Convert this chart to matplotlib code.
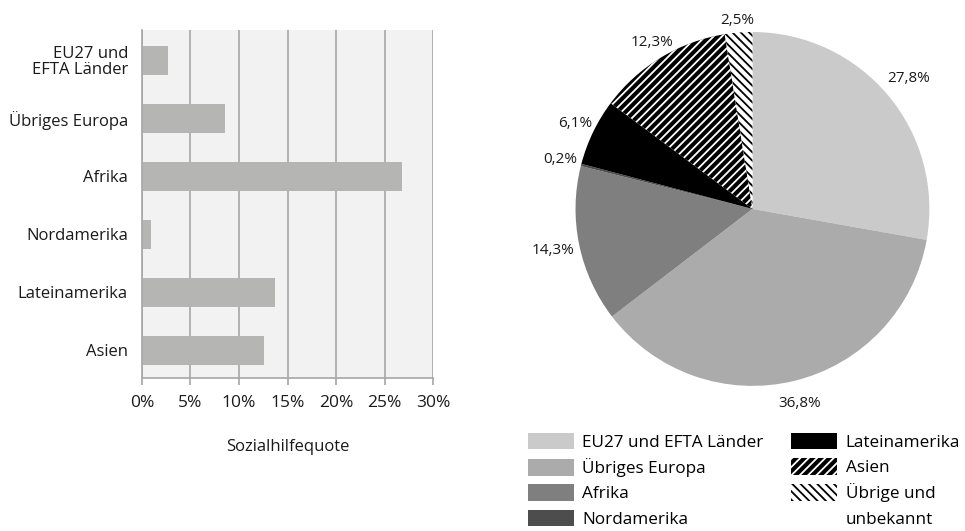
import matplotlib.pyplot as plt
from matplotlib.patches import Patch

plt.rcParams["font.family"] = ["Open Sans", "DejaVu Sans"]
plt.rcParams["hatch.linewidth"] = 1.3

# bar chart data (Sozialhilfequote in %)
bar_regions = ["EU27 und\nEFTA Länder", "Übriges Europa", "Afrika", "Nordamerika", "Lateinamerika", "Asien"]
bar_values = [2.7, 8.6, 26.8, 0.9, 13.7, 12.6]
x_ticks = [0, 5, 10, 15, 20, 25, 30]

# pie chart data (share in %)
pie_regions = ["EU27 und EFTA Länder", "Übriges Europa", "Afrika", "Nordamerika",
               "Lateinamerika", "Asien", "Übrige und", "unbekannt"]
pie_values = [27.8, 36.8, 14.3, 0.2, 6.1, 12.3, 2.5]
pie_colors = ["#c9cac9", "#ababab", "#7f7f7f", "#4d4d4d", "#000000", "#000000", "#ffffff"]
pie_hatches = [None, None, None, None, None, "////", "\\\\\\\\"]
hatch_colors = ["white", "white", "white", "white", "white", "white", "black"]
label_dist = [1.15, 1.13, 1.15, 1.12, 1.11, 1.1, 1.07]

fig = plt.figure(figsize=(9.65, 5.31), dpi=100)

# --- left: horizontal bars
ax = fig.add_axes([0.147, 0.288, 0.302, 0.655])
ax.set_facecolor("#f2f2f2")
ax.barh(range(len(bar_values)), bar_values, height=0.5, color="#b5b5b4", zorder=2)
ax.set_yticks(range(len(bar_regions)))
ax.set_yticklabels(bar_regions, fontsize=12, color="#1a1a1a", linespacing=1.0)
ax.set_ylim(5.48, -0.52)
ax.set_xlim(0, 30)
ax.set_xticks(x_ticks)
ax.set_xticklabels([f"{t}%" for t in x_ticks], fontsize=12.5, color="#1a1a1a")
ax.grid(axis="x", color="#a6a6a6", linewidth=1.2, zorder=1)
ax.tick_params(axis="y", length=0, pad=10)
ax.tick_params(axis="x", length=5, width=1.2, color="#a6a6a6", pad=7)
for side in ["top", "right"]:
    ax.spines[side].set_visible(False)
for side in ["left", "bottom"]:
    ax.spines[side].set_color("#a6a6a6")
    ax.spines[side].set_linewidth(1.2)
ax.set_xlabel("Sozialhilfequote", fontsize=12, color="#1a1a1a", labelpad=20)

# --- right: pie
pax = fig.add_axes([0.5505, 0.19, 0.4585, 0.833])
wedges, texts = pax.pie(pie_values, colors=pie_colors, startangle=90, counterclock=False,
                        labels=[f"{v:.1f}%".replace(".", ",") for v in pie_values],
                        textprops={"fontsize": 11, "color": "#1a1a1a"},
                        wedgeprops={"linewidth": 0})
for w, h, hc, t, d in zip(wedges, pie_hatches, hatch_colors, texts, label_dist):
    w.set_edgecolor(hc)
    if h:
        w.set_hatch(h)
    x, y = t.get_position()
    r = (x ** 2 + y ** 2) ** 0.5
    t.set_position((x / r * d, y / r * d))
    t.set_ha("center")
pax.set_xlim(-1.25, 1.25)
pax.set_ylim(-1.25, 1.25)
pax.set_aspect("equal")

handles = []
for c, h, hc, lab in zip(pie_colors, pie_hatches, hatch_colors, pie_regions):
    handles.append(Patch(facecolor=c, edgecolor=hc if h else c, hatch=h, linewidth=0, label=lab))
# second line of the last label, no box of its own
handles.append(Patch(facecolor="none", edgecolor="none", linewidth=0, label=pie_regions[-1]))
fig.legend(handles=handles, ncol=2, loc="upper left", bbox_to_anchor=(0.538, 0.201),
           frameon=False, fontsize=12.3, handlelength=2.7, handleheight=1.1,
           handletextpad=0.5, columnspacing=1.6, labelspacing=0.43, borderpad=0)

fig.savefig("out.png", dpi=100)
